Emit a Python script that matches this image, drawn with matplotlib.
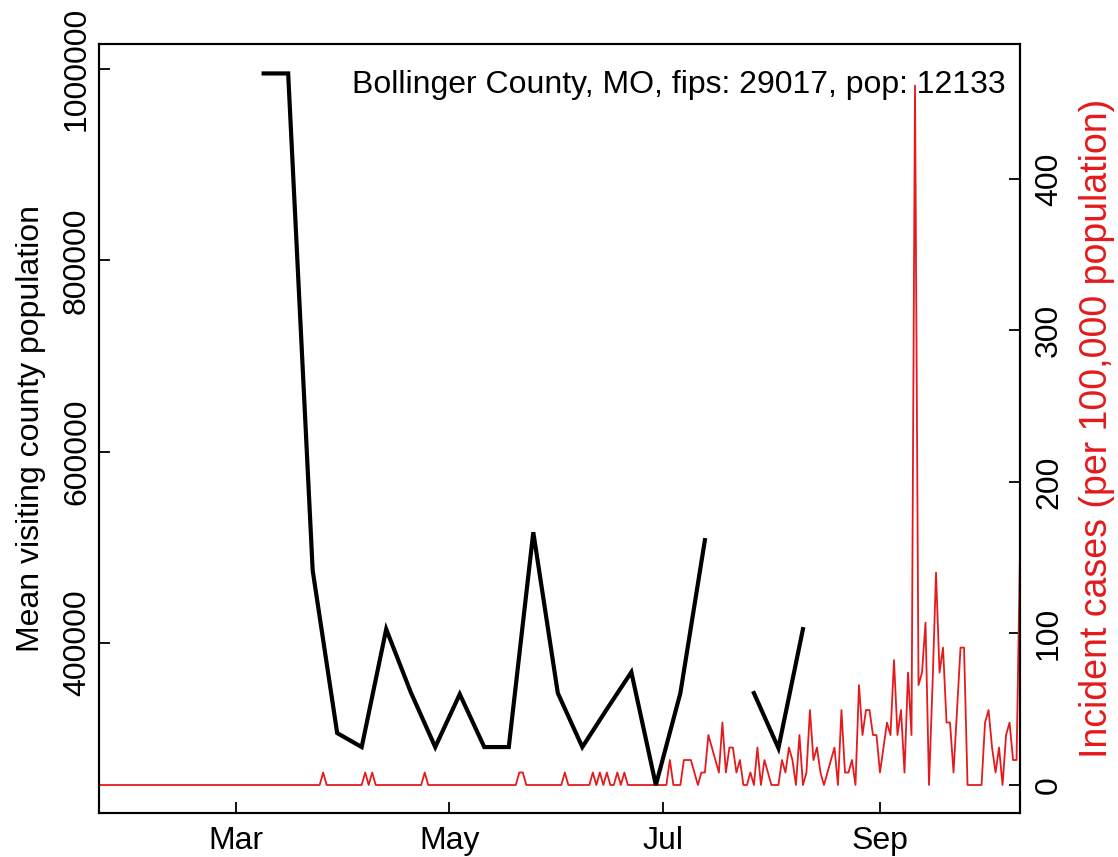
import matplotlib
matplotlib.use("Agg")
import matplotlib.pyplot as plt
import matplotlib.dates as mdates
from matplotlib.ticker import FuncFormatter
import numpy as np
import datetime as dt

plt.rcParams['font.family'] = ['Liberation Sans', 'DejaVu Sans']

# county info shown in the corner
county = "Bollinger County, MO"
fips = 29017
pop = 12133

# weekly mean visiting-county population (NaN = missing week)
visit_start = dt.date(2020, 3, 9)
visit_pop = [995300, 995300, 476000, 306000, 291400, 414600, 348800, 291400,
             346700, 291400, 291400, 515900, 347800, 291400, 331000, 369700,
             251700, 347800, 507600, np.nan, 347800, 290300, 414600]

# daily incident cases (raw counts), Jan 22 - Oct 11
case_start = dt.date(2020, 1, 22)
cases = ([0] * 64 +                                  # Jan 22 - Mar 25
         [1] + [0] * 11 + [1, 0, 1] + [0] * 14 +     # Mar 26 - Apr 23
         [1] + [0] * 26 + [1, 1] + [0] * 11 +        # Apr 24 - Jun 1
         [1] + [0] * 7 +                             # Jun 2 - Jun 9
         [1, 0, 1, 0, 1, 0, 0, 1, 0, 1] +            # Jun 10 - Jun 19
         [0] * 12 +                                  # Jun 20 - Jul 1
         [2, 0, 0, 0, 2, 2, 2, 1, 0, 1, 1,
          4, 3, 2, 1, 5, 1, 3, 3, 1, 2, 0, 0, 1, 0, 3, 0, 2, 1, 0, 0, 0,
          2, 1, 3, 2, 0, 4, 0, 1, 6, 2, 3, 1, 0, 1, 2, 3, 0, 6, 1, 1, 2, 0,
          8, 4, 6, 6, 4, 4, 1, 3, 5, 4, 10, 4, 6, 1, 9, 4, 56, 8, 9, 13, 0,
          8, 17, 9, 11, 5, 5, 1, 6, 11, 11, 0, 0, 0, 0, 0,
          5, 6, 3, 1, 3, 0, 4, 5, 2, 2, 19])

visit_dates = [visit_start + dt.timedelta(days=7 * i) for i in range(len(visit_pop))]
case_dates = [case_start + dt.timedelta(days=i) for i in range(len(cases))]
incidence = np.array(cases) * 100000.0 / pop

red = '#E41A1C'
fs = 23

fig = plt.figure(figsize=(11.18, 8.57), dpi=100)
ax = fig.add_axes([0.0886, 0.0513, 0.8238, 0.8974])
ax2 = ax.twinx()

ax.plot(visit_dates, visit_pop, color='black', lw=3, solid_joinstyle='miter')
ax2.plot(case_dates, incidence, color=red, lw=1.3)

# black line sits above the red one
ax.set_zorder(ax2.get_zorder() + 1)
ax.patch.set_visible(False)

ax.set_xlim(case_dates[0], case_dates[-1])
ax.set_ylim(222454, 1026110)
ax2.set_ylim(-18.5, 489)

ax.xaxis.set_major_locator(mdates.MonthLocator(bymonth=[3, 5, 7, 9]))
ax.xaxis.set_major_formatter(mdates.DateFormatter('%b'))
ax.set_yticks([400000, 600000, 800000, 1000000])
ax.yaxis.set_major_formatter(FuncFormatter(lambda v, p: f"{v:.0f}"))
ax2.set_yticks([0, 100, 200, 300, 400])

for a in (ax, ax2):
    a.tick_params(direction='in', length=8, width=1.3, labelsize=fs, pad=8)
    for s in a.spines.values():
        s.set_linewidth(1.5)
ax.tick_params(axis='x', pad=9)
ax.tick_params(axis='y', pad=5)
ax2.tick_params(axis='y', pad=10)
for lab in ax.get_yticklabels() + ax2.get_yticklabels():
    lab.set_rotation(90)
    lab.set_va('center')

ax.set_ylabel('Mean visiting county population', fontsize=fs)
ax.yaxis.set_label_coords(-0.058, 0.5)
ax2.set_ylabel('Incident cases (per 100,000 population)', fontsize=27, color=red)
ax2.yaxis.set_label_coords(1.064, 0.5)

ax.text(0.984, 0.947, f"{county}, fips: {fips}, pop: {pop}", transform=ax.transAxes,
        ha='right', va='center', fontsize=fs)

fig.savefig('out.png', dpi=100)
